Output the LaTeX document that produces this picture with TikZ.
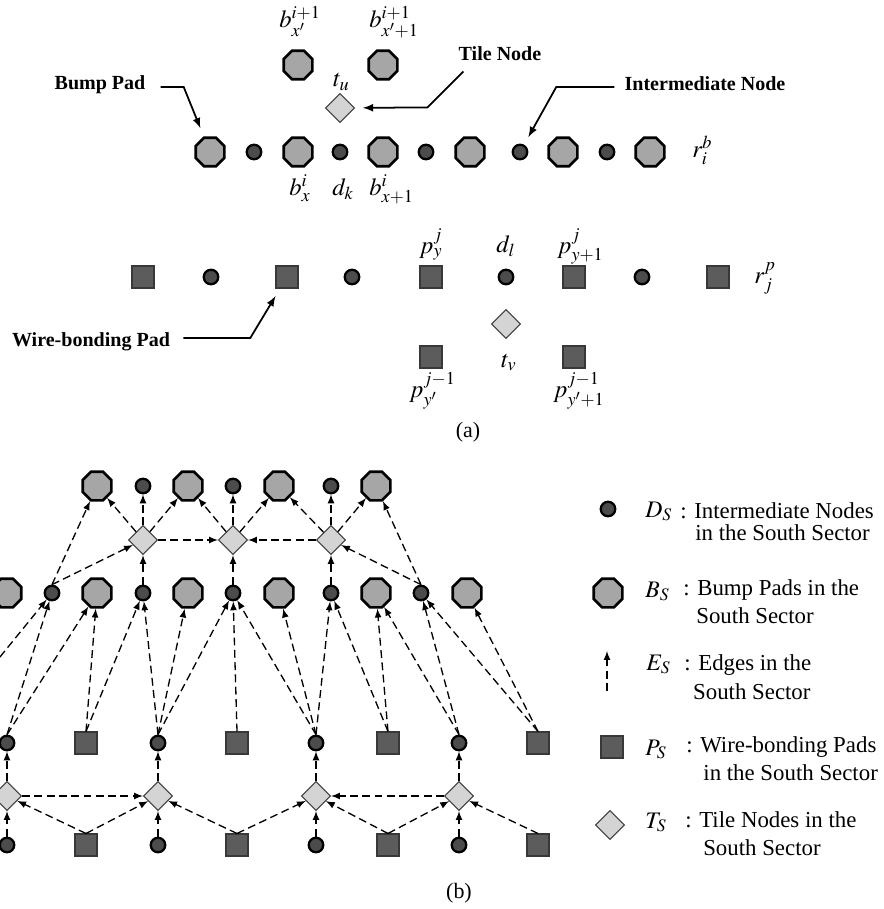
\documentclass[tikz,border=0pt]{standalone}
\usepackage{mathptmx}
\usepackage{fontspec}
\setmainfont{Liberation Serif}
\usetikzlibrary{arrows, shapes.geometric}

\definecolor{bumpfill}{gray}{0.65}
\definecolor{interfill}{gray}{0.30}
\definecolor{wirefill}{gray}{0.36}
\definecolor{wireline}{gray}{0.22}
\definecolor{tilefill}{gray}{0.83}
\definecolor{tileline}{gray}{0.25}

\begin{document}
\begin{tikzpicture}[x=0.02cm, y=-0.02cm,
	bumppad/.style={draw, regular polygon, regular polygon sides=8, minimum size=0.62cm, inner sep=0pt, line width=1.5pt, fill=bumpfill},
	interdot/.style={draw, circle, minimum size=0.29cm, inner sep=0pt, line width=1.3pt, fill=interfill},
	wirepad/.style={draw=wireline, rectangle, minimum size=0.44cm, inner sep=0pt, line width=0.6pt, fill=wirefill},
	tilenode/.style={draw=tileline, diamond, minimum size=0.58cm, inner sep=0pt, line width=0.6pt, fill=tilefill},
	link/.style={-latex, dash pattern=on 4.5pt off 2.5pt, line width=0.75pt},
	pointer/.style={-latex, line width=1pt, shorten >=5pt},
	note/.style={inner sep=0pt, font=\fontsize{11.4}{13}\selectfont\bfseries},
	lbl/.style={inner sep=0pt, anchor=base west, font=\fontsize{14}{16}\selectfont},
	legtext/.style={inner sep=0pt, anchor=base west, align=left, font=\fontsize{13}{15.5}\selectfont}]
		
		\useasboundingbox (0,0) rectangle (883,909);
		
		%(a) bump pad row
		\node (bxp) at (298,65) [bumppad]{};
		\node (bxp1) at (383,65) [bumppad]{};
		\node (tu) at (340,108) [tilenode]{};
		
		\node (bA1) at (210,152) [bumppad]{};
		\node (dA1) at (254,152) [interdot]{};
		\node (bx) at (298,152) [bumppad]{};
		\node (dk) at (340,152) [interdot]{};
		\node (bx1) at (383,152) [bumppad]{};
		\node (dA4) at (426,152) [interdot]{};
		\node (bA5) at (470,152) [bumppad]{};
		\node (dA6) at (520,152) [interdot]{};
		\node (bA7) at (563,152) [bumppad]{};
		\node (dA8) at (607,152) [interdot]{};
		\node (bA9) at (650,152) [bumppad]{};
		
		\node (lbxp) at (279,28) [lbl]{$b_{x'}^{i+1}$};
		\node (lbxp1) at (369,28) [lbl]{$b_{x'+1}^{i+1}$};
		\node (ltu) at (333,87) [lbl]{$t_u$};
		\node (lbx) at (289,195) [lbl]{$b_x^i$};
		\node (ldk) at (332,195) [lbl]{$d_k$};
		\node (lbx1) at (369,195) [lbl]{$b_{x+1}^i$};
		\node (lrb) at (692,157) [lbl]{$r_i^b$};
		
		\node (bumpPad) at (100,85) [note]{Bump Pad};
		\node (tileNode) at (500,54) [note]{Tile Node};
		\node (interNode) at (705,84) [note]{Intermediate Node};
		
		%(a) wire-bonding pad row
		\node (pA1) at (143,277) [wirepad]{};
		\node (dB1) at (211,277) [interdot]{};
		\node (pA2) at (287,277) [wirepad]{};
		\node (dB2) at (352,277) [interdot]{};
		\node (py) at (431,277) [wirepad]{};
		\node (dl) at (506,277) [interdot]{};
		\node (py1) at (574,277) [wirepad]{};
		\node (dB3) at (642,277) [interdot]{};
		\node (pA5) at (718,277) [wirepad]{};
		
		\node (tv) at (506,324) [tilenode]{};
		\node (pyp) at (431,357) [wirepad]{};
		\node (pyp1) at (574,357) [wirepad]{};
		
		\node (lpy) at (419,253) [lbl]{$p_y^j$};
		\node (ldl) at (496,252) [lbl]{$d_l$};
		\node (lpy1) at (557,253) [lbl]{$p_{y+1}^j$};
		\node (lrp) at (754,283) [lbl]{$r_j^p$};
		\node (ltv) at (501,367) [lbl]{$t_v$};
		\node (lpyp) at (409,397) [lbl]{$p_{y'}^{j-1}$};
		\node (lpyp1) at (553,397) [lbl]{$p_{y'+1}^{j-1}$};
		
		\node (wirePad) at (91,342) [note]{Wire-bonding Pad};
		
		\node (capA) at (468,432) [font=\fontsize{12.5}{15}\selectfont]{(a)};
		
		%Pointers
		\draw[pointer] (bumpPad.east) ++(15,2) -- ++(23,0) -- (bA1);
		\draw[pointer, shorten >=4.5pt] (tileNode.south west) ++(5,10) -- ++(-36,36) -- (tu);
		\draw[pointer] (interNode.west) ++(-10,3) -- ++(-58,0) -- (dA6);
		\draw[pointer] (wirePad.east) ++(13,-4) -- ++(67,0) -- (pA2);
		
		%(b) bump pad rows
		\node (bt1) at (97,486) [bumppad]{};
		\node (dt1) at (143,486) [interdot]{};
		\node (bt2) at (188,486) [bumppad]{};
		\node (dt2) at (233,486) [interdot]{};
		\node (bt3) at (279,486) [bumppad]{};
		\node (dt3) at (331,486) [interdot]{};
		\node (bt4) at (376,486) [bumppad]{};
		
		\node (tn1) at (143,540) [tilenode]{};
		\node (tn2) at (233,540) [tilenode]{};
		\node (tn3) at (331,540) [tilenode]{};
		
		\node (bm0) at (7,593) [bumppad]{};
		\node (dm1) at (52,593) [interdot]{};
		\node (bm1) at (97,593) [bumppad]{};
		\node (dm2) at (143,593) [interdot]{};
		\node (bm2) at (188,593) [bumppad]{};
		\node (dm3) at (233,593) [interdot]{};
		\node (bm3) at (279,593) [bumppad]{};
		\node (dm4) at (331,593) [interdot]{};
		\node (bm4) at (376,593) [bumppad]{};
		\node (dm5) at (421,593) [interdot]{};
		\node (bm5) at (467,593) [bumppad]{};
		
		%(b) wire-bonding pad rows
		\coordinate (plm) at (-70,743);
		\node (dl0) at (7,743) [interdot]{};
		\node (pl0) at (86,743) [wirepad]{};
		\node (dl1) at (158,743) [interdot]{};
		\node (pl1) at (237,743) [wirepad]{};
		\node (dl2) at (316,743) [interdot]{};
		\node (pl2) at (388,743) [wirepad]{};
		\node (dl3) at (459,743) [interdot]{};
		\node (pl3) at (538,743) [wirepad]{};
		
		\node (ts0) at (7,796) [tilenode]{};
		\node (ts1) at (158,796) [tilenode]{};
		\node (ts2) at (316,796) [tilenode]{};
		\node (ts3) at (459,796) [tilenode]{};
		
		\node (db0) at (7,845) [interdot]{};
		\node (pb0) at (86,845) [wirepad]{};
		\node (db1) at (158,845) [interdot]{};
		\node (pb1) at (237,845) [wirepad]{};
		\node (db2) at (316,845) [interdot]{};
		\node (pb2) at (388,845) [wirepad]{};
		\node (db3) at (459,845) [interdot]{};
		\node (pb3) at (538,845) [wirepad]{};
		
		\node (capB) at (459,893) [font=\fontsize{12.5}{15}\selectfont]{(b)};
		
		%Edges, upper tiles
		\draw[link] (tn1) -- (dt1);
		\draw[link] (tn2) -- (dt2);
		\draw[link] (tn3) -- (dt3);
		\draw[link] (dm2) -- (tn1);
		\draw[link] (dm3) -- (tn2);
		\draw[link] (dm4) -- (tn3);
		\draw[link] (tn1) -- (tn2);
		\draw[link] (tn3) -- (tn2);
		\draw[link] (tn1) -- (bt1);
		\draw[link] (tn1) -- (bt2);
		\draw[link] (tn2) -- (bt2);
		\draw[link] (tn2) -- (bt3);
		\draw[link] (tn3) -- (bt3);
		\draw[link] (tn3) -- (bt4);
		\draw[link] (dm1.north) -- (tn1);
		\draw[link] (dm1.north) -- (bt1);
		\draw[link] (dm5.north) -- (tn3);
		\draw[link] (dm5.north) -- (bt4);
		
		%Edges, middle
		\draw[link] (plm) -- (bm0);
		\draw[link] (plm) -- (dm1);
		\draw[link] (dl0.north) -- (dm1);
		\draw[link] (dl0.north) -- (bm1);
		\draw[link] (pl0.north) -- (bm1);
		\draw[link] (pl0.north) -- (dm2);
		\draw[link] (dl1.north) -- (dm2);
		\draw[link] (dl1.north) -- (bm2);
		\draw[link] (dl1.north) -- (dm3);
		\draw[link] (pl1.north) -- (dm3);
		\draw[link] (dl2.north) -- (dm3);
		\draw[link] (dl2.north) -- (bm3);
		\draw[link] (dl2.north) -- (dm4);
		\draw[link] (pl2.north) -- (dm4);
		\draw[link] (pl2.north) -- (bm4);
		\draw[link] (dl3.north) -- (bm4);
		\draw[link] (dl3.north) -- (dm5);
		\draw[link] (pl3.north) -- (dm5);
		\draw[link] (pl3.north) -- (bm5);
		
		%Edges, lower tiles
		\draw[link] (ts0) -- (dl0);
		\draw[link] (ts1) -- (dl1);
		\draw[link] (ts2) -- (dl2);
		\draw[link] (ts3) -- (dl3);
		\draw[link] (db0) -- (ts0);
		\draw[link] (db1) -- (ts1);
		\draw[link] (db2) -- (ts2);
		\draw[link] (db3) -- (ts3);
		\draw[link] (ts0) -- (ts1);
		\draw[link] (ts3) -- (ts2);
		\draw[link] (pb0.north) -- (ts0);
		\draw[link] (pb0.north) -- (ts1);
		\draw[link] (pb1.north) -- (ts1);
		\draw[link] (pb1.north) -- (ts2);
		\draw[link] (pb2.north) -- (ts2);
		\draw[link] (pb2.north) -- (ts3);
		\draw[link] (pb3.north) -- (ts3);
		
		%Legend
		\node (legD) at (608,509) [interdot]{};
		\node (legB) at (608,593) [bumppad]{};
		\coordinate (legEfrom) at (607,691);
		\coordinate (legEto) at (607,651);
		\draw[link] (legEfrom) -- (legEto);
		\node (legP) at (612,747) [wirepad]{};
		\node (legT) at (610,825) [tilenode]{};
		
		\node (legDs) at (645,517) [lbl, font=\fontsize{13.5}{15.5}\selectfont]{$D_S$};
		\node (legBs) at (645,597) [lbl, font=\fontsize{13.5}{15.5}\selectfont]{$B_S$};
		\node (legEs) at (646,670) [lbl, font=\fontsize{13.5}{15.5}\selectfont]{$E_S$};
		\node (legPs) at (645,755) [lbl, font=\fontsize{13.5}{15.5}\selectfont]{$P_S$};
		\node (legTs) at (645,828) [lbl, font=\fontsize{13.5}{15.5}\selectfont]{$T_S$};
		
		\node (legDt) at (680,540) [legtext]{: Intermediate Nodes\\[-3.5pt]\hspace*{8.5pt}in the South Sector};
		\node (legBt) at (683,623) [legtext]{: Bump Pads in the\\\hspace*{7.4pt}South Sector};
		\node (legEt) at (684,699) [legtext]{: Edges in the\\[1pt]\hspace*{5pt}South Sector};
		\node (legPt) at (686,780) [legtext]{: Wire-bonding Pads\\\hspace*{9.7pt}in the South Sector};
		\node (legTt) at (685,855) [legtext]{: Tile Nodes in the\\\hspace*{10.2pt}South Sector};
		
\end{tikzpicture}
\end{document}
